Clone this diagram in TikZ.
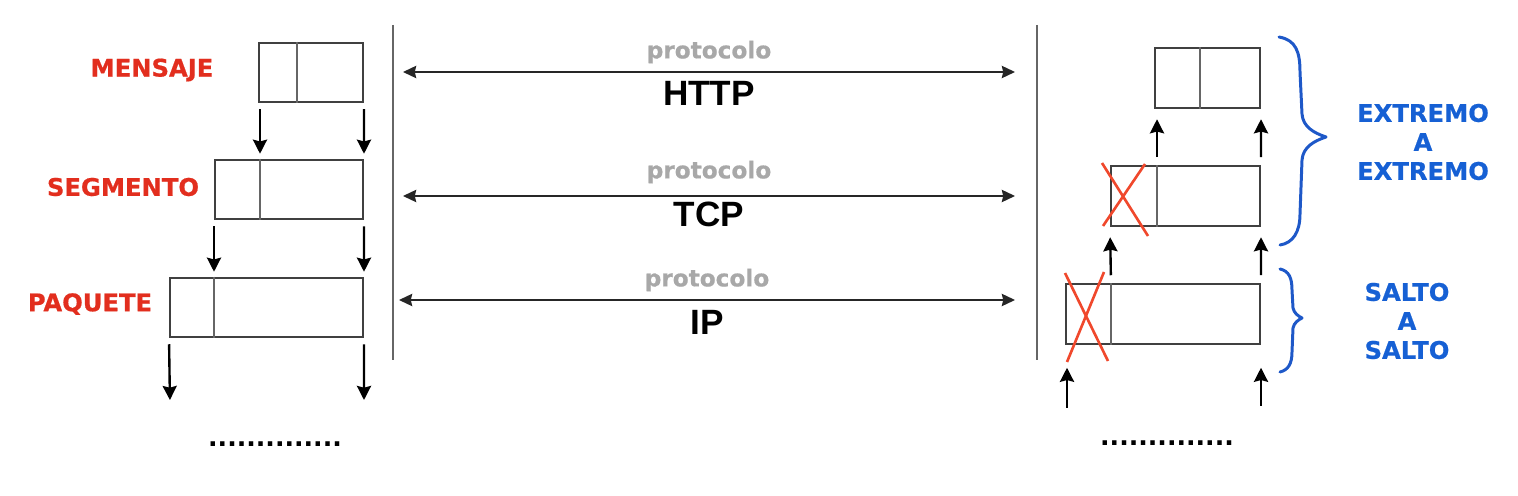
\documentclass[tikz,border=0pt]{standalone}
\usepackage{fontspec}
\setmainfont{DejaVu Sans}
\newfontfamily\heavyfont{DejaVu Sans}[BoldFeatures={FakeBold=0.7}]
\newfontfamily\protofont{Liberation Sans}
\usetikzlibrary{arrows.meta}
\definecolor{labred}{RGB}{226,46,30}
\definecolor{crossred}{RGB}{240,72,44}
\definecolor{endblue}{RGB}{22,96,212}
\definecolor{braceblue}{RGB}{30,88,200}
\definecolor{protogray}{RGB}{168,168,168}
\begin{document}
\begin{tikzpicture}[x=0.02cm,y=-0.02cm,>={Stealth[length=8pt,width=8pt,inset=1pt]},
	pdu/.style={draw=black!75,line width=1.15pt,minimum height=1.19cm,inner sep=0pt},
	divline/.style={draw=black!60,line width=1.15pt},
	down/.style={->,line width=1.35pt,shorten <=0.12cm,shorten >=0.1cm},
	up/.style={->,line width=1.35pt,shorten <=0.16cm,shorten >=0.21cm},
	both/.style={{Stealth[length=7.5pt,width=7pt,inset=0.8pt]}-{Stealth[length=7.5pt,width=7pt,inset=0.8pt]},draw=black!85,line width=1pt},
	layer/.style={text=labred,font=\heavyfont\bfseries\fontsize{13.8}{16}\selectfont},
	ends/.style={text=endblue,align=center,font=\heavyfont\bfseries\fontsize{13.8}{16.5}\selectfont},
	proto/.style={text=protogray,font=\heavyfont\bfseries\fontsize{13.2}{15}\selectfont},
	pname/.style={font=\protofont\bfseries\fontsize{20}{22}\selectfont},
	cross/.style={draw=crossred,line width=1.5pt},
	brace/.style={draw=braceblue,line width=1.7pt,line cap=round,line join=round},
	more/.style={font=\bfseries\fontsize{14.3}{16}\selectfont,anchor=base}]
	\useasboundingbox (0,0) rectangle (1518,496);
	% emisor
	\node[pdu,minimum width=2.08cm] (msg) at (311,72.5) {};
	\node[pdu,minimum width=2.96cm] (seg) at (289,189.5) {};
	\node[pdu,minimum width=3.86cm] (paq) at (266.5,307.5) {};
	\coordinate (msgd) at (297,0);
	\coordinate (segd) at (260,0);
	\coordinate (paqd) at (214,0);
	\draw[divline] (msg.north -| msgd) -- (msg.south -| msgd);
	\draw[divline] (seg.north -| segd) -- (seg.south -| segd);
	\draw[divline] (paq.north -| paqd) -- (paq.south -| paqd);
	\node[layer] (msglab) at (152,70) {MENSAJE};
	\node[layer] (seglab) at (123,187) {SEGMENTO};
	\node[layer] (paqlab) at (90,304) {PAQUETE};
	\draw[down] (msg.south -| segd) -- (seg.north -| segd);
	\draw[down] (msg.south east) -- (seg.north east);
	\draw[down] (seg.south west) -- (seg.south west |- paq.north);
	\draw[down] (seg.south east) -- (paq.north east);
	\coordinate (out1) at (170,405);
	\coordinate (out2) at (364,405);
	\draw[down] (paq.south west) -- (out1);
	\draw[down] (paq.south east) -- (out2);
	\node[more] (dotsl) at (275,446) {..............};
	% lineas
	\coordinate (la) at (393,25);
	\coordinate (lb) at (393,360);
	\coordinate (ra) at (1037,25);
	\coordinate (rb) at (1037,360);
	\draw[draw=black!60,line width=1.2pt] (la) -- (lb);
	\draw[draw=black!60,line width=1.2pt] (ra) -- (rb);
	\coordinate (httpl) at (403,72);
	\coordinate (httpr) at (1015,72);
	\coordinate (tcpl) at (403,196);
	\coordinate (tcpr) at (1015,196);
	\coordinate (ipl) at (399,300);
	\coordinate (ipr) at (1015,300);
	\draw[both] (httpl) -- node[proto,yshift=0.4cm] (p1) {protocolo} node[pname,yshift=-0.42cm] (http) {HTTP} (httpr);
	\draw[both] (tcpl) -- node[proto,yshift=0.48cm] (p2) {protocolo} node[pname,yshift=-0.36cm] (tcp) {TCP} (tcpr);
	\draw[both] (ipl) -- node[proto,yshift=0.4cm] (p3) {protocolo} node[pname,yshift=-0.44cm] (ip) {IP} (ipr);
	% receptor
	\node[pdu,minimum width=2.1cm] (rmsg) at (1207.5,78) {};
	\node[pdu,minimum width=2.98cm] (rseg) at (1185.5,196) {};
	\node[pdu,minimum width=3.88cm] (rpaq) at (1163,314) {};
	\coordinate (rmsgd) at (1200,0);
	\coordinate (rsegd) at (1157,0);
	\coordinate (rpaqd) at (1111,0);
	\draw[divline] (rmsg.north -| rmsgd) -- (rmsg.south -| rmsgd);
	\draw[divline] (rseg.north -| rsegd) -- (rseg.south -| rsegd);
	\draw[divline] (rpaq.north -| rpaqd) -- (rpaq.south -| rpaqd);
	\coordinate (in1) at (1067,408);
	\coordinate (in2) at (1261,406);
	\draw[->,line width=1.35pt,shorten >=0.46cm] (in1) -- (in1 |- rpaq.south);
	\draw[->,line width=1.35pt,shorten >=0.46cm] (in2) -- (in2 |- rpaq.south);
	\draw[up] (rpaq.north -| rpaqd) -- (rseg.south west);
	\draw[up] (rpaq.north east) -- (rseg.south east);
	\draw[up] (rseg.north -| rsegd) -- (rmsg.south -| rsegd);
	\draw[up] (rseg.north east) -- (rmsg.south east);
	\draw[cross] (1102,163) -- (1148,236);
	\draw[cross] (1145,164) -- (1103,226);
	\draw[cross] (1065,273) -- (1108,361);
	\draw[cross] (1104,272) -- (1067,362);
	\node[more] (dotsr) at (1167,445) {..............};
	% llaves
	\draw[brace] (1279,37) .. controls (1296,40) and (1300,52) .. (1300,72) -- (1302,114) .. controls (1303,127) and (1314,133) .. (1326,137) .. controls (1314,141) and (1303,147) .. (1302,160) -- (1300,214) .. controls (1300,232) and (1293,243) .. (1280,245);
	\draw[brace] (1280,269) .. controls (1289,271) and (1292,278) .. (1292,290) -- (1293,308) .. controls (1294,313) and (1298,316) .. (1302,318) .. controls (1298,320) and (1294,323) .. (1293,328) -- (1292,352) .. controls (1292,364) and (1288,370) .. (1280,372);
	\node[ends] (e2e) at (1423,142) {EXTREMO\\A\\EXTREMO};
	\node[ends] (hop) at (1407,321) {SALTO\\A\\SALTO};
\end{tikzpicture}
\end{document}
